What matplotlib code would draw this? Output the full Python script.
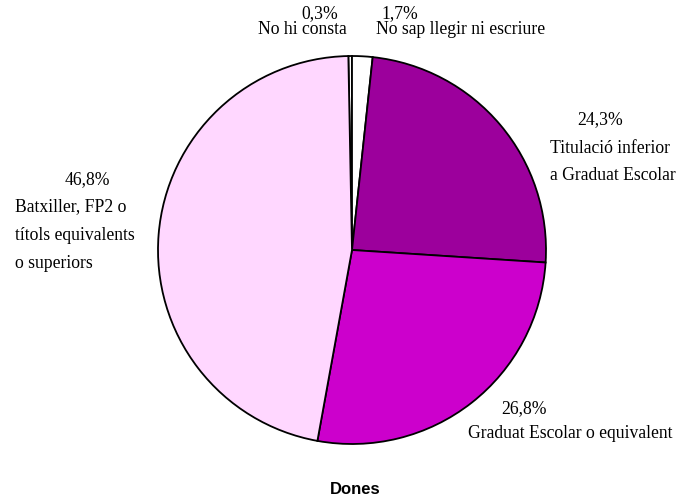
import matplotlib.pyplot as plt

# Dades: nivell d'estudis (Dones)
categories = ['No hi consta', 'No sap llegir ni escriure',
              'Titulació inferior\na Graduat Escolar',
              'Graduat Escolar o equivalent',
              'Batxiller, FP2 o\ntítols equivalents\no superiors']
values = [0.3, 1.7, 24.3, 26.8, 46.8]
colors = ['white', 'white', '#9C009C', '#CC00CC', '#FFD7FF']

W, H = 677, 499
fig = plt.figure(figsize=(W / 100, H / 100), dpi=100)

# pie centre (352, 250) px, radius 194 px
cx, cy, r = 352, 250, 194
ax = fig.add_axes([(cx - r) / W, (H - cy - r) / H, 2 * r / W, 2 * r / H])
startangle = 90 + values[0] / 100 * 360
ax.pie(values, colors=colors, startangle=startangle, counterclock=False,
       radius=1, wedgeprops=dict(edgecolor='black', linewidth=1.3))
ax.set_xlim(-1, 1)
ax.set_ylim(-1, 1)
ax.axis('off')
for p in ax.patches:
    p.set_clip_on(False)

def pct(v):
    return f'{v:.1f}%'.replace('.', ',')

serif = dict(family='Liberation Serif', fontsize=12.7, color='black')

# label positions in pixels: (percent x, percent y, label x, label y, align)
label_pos = [
    (320, 14, 302, 30, 'center'),
    (400, 14, 376, 30, 'left'),
    (600, 120, 550, 148, 'left'),
    (524, 409, 468, 433, 'left'),
    (87, 180, 15, 207, 'left'),
]

for v, cat, (px, py, lx, ly, ha) in zip(values, categories, label_pos):
    fig.text(px / W, 1 - py / H, pct(v), ha='center', va='center', **serif)
    for i, line in enumerate(cat.split('\n')):
        fig.text(lx / W, 1 - (ly + i * 28) / H, line, ha=ha, va='center', **serif)

fig.text(355 / W, 1 - 490 / H, 'Dones', ha='center', va='center',
         family='Liberation Sans', fontsize=12, fontweight='bold')

fig.savefig('out.png', dpi=100)
